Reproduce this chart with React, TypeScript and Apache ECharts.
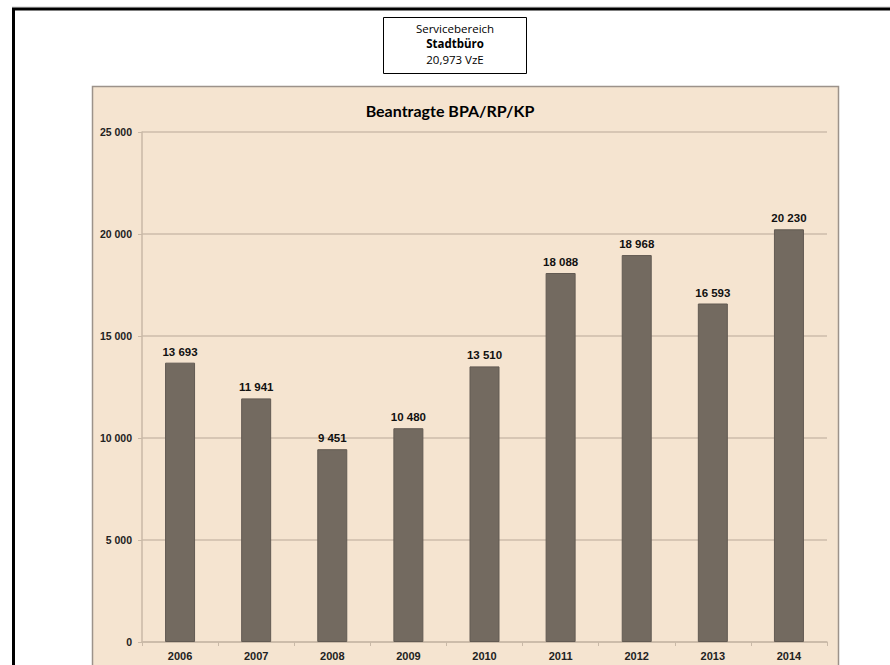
import React, { useEffect, useRef } from "react";
import * as echarts from "echarts";

const categories = ["2006", "2007", "2008", "2009", "2010", "2011", "2012", "2013", "2014"];
const values = [13693, 11941, 9451, 10480, 13510, 18088, 18968, 16593, 20230];
const headerLines = ["Servicebereich", "Stadtbüro", "20,973 VzE"];
const chartTitle = "Beantragte BPA/RP/KP";

const fmt = (v: number) => String(Math.round(v)).replace(/\B(?=(\d{3})+(?!\d))/g, " ");

export default function App() {
  const ref = useRef<HTMLDivElement>(null);
  useEffect(() => {
    if (!ref.current) return;
    const chart = echarts.init(ref.current, undefined, { renderer: "svg" });
    chart.setOption({
      animation: false,
      backgroundColor: "#ffffff",
      graphic: [
        { type: "line", shape: { x1: 12, y1: 7, x2: 890, y2: 7 }, style: { stroke: "#cfcfcf", lineWidth: 1 }, z: 0 },
        { type: "line", shape: { x1: 12, y1: 9, x2: 890, y2: 9 }, style: { stroke: "#000", lineWidth: 3 }, z: 1 },
        { type: "line", shape: { x1: 13.5, y1: 8, x2: 13.5, y2: 665 }, style: { stroke: "#000", lineWidth: 3 }, z: 1 },
        { type: "rect", shape: { x: 383.5, y: 17.5, width: 143, height: 56 }, style: { fill: "#fff", stroke: "#000", lineWidth: 1 }, z: 1 },
        { type: "text", x: 455, y: 28, style: { text: headerLines[0], font: "11.5px 'Open Sans'", fill: "#000", textAlign: "center", textVerticalAlign: "middle" }, z: 2 },
        { type: "text", x: 455, y: 43, style: { text: headerLines[1], font: "bold 11.5px 'Open Sans'", fill: "#000", textAlign: "center", textVerticalAlign: "middle" }, z: 2 },
        { type: "text", x: 455, y: 59, style: { text: headerLines[2], font: "11.5px 'Open Sans'", fill: "#000", textAlign: "center", textVerticalAlign: "middle" }, z: 2 },
        { type: "rect", shape: { x: 92.5, y: 86.5, width: 746, height: 620 }, style: { fill: "#F5E4D0", stroke: "#9c928a", lineWidth: 1.5 }, z: -10 },
        { type: "text", x: 450, y: 110, style: { text: chartTitle, font: "bold 16px Lato", fill: "#000", textAlign: "center", textVerticalAlign: "middle" }, z: 2 },
      ],
      grid: { left: 142, top: 132, width: 685, height: 510, containLabel: false },
      xAxis: {
        type: "category",
        data: categories,
        axisLine: { lineStyle: { color: "#c9b9a7", width: 1.5 } },
        axisTick: { show: true, length: 4, lineStyle: { color: "#c9b9a7" } },
        axisLabel: { color: "#222", fontWeight: "bold", fontSize: 11, fontFamily: "'Liberation Sans', Arial", margin: 8 },
      },
      yAxis: {
        type: "value",
        min: 0,
        max: 25000,
        interval: 5000,
        axisLine: { show: true, lineStyle: { color: "#c9b9a7", width: 1.5 } },
        axisTick: { show: true, length: 4, lineStyle: { color: "#c9b9a7" } },
        splitLine: { lineStyle: { color: "#cdbdab", width: 1.5 } },
        axisLabel: { color: "#222", fontWeight: "bold", fontSize: 10.5, fontFamily: "'Liberation Sans', Arial", margin: 10, formatter: (v: number) => fmt(v) },
      },
      series: [
        {
          type: "bar",
          data: values,
          barWidth: 30,
          itemStyle: { color: "#736a60", borderColor: "#625a52", borderWidth: 1 },
          label: {
            show: true,
            position: "top",
            distance: 5,
            color: "#111",
            fontWeight: "bold",
            fontSize: 11.5,
            fontFamily: "'Liberation Sans', Arial",
            formatter: (p: any) => fmt(p.value),
          },
        },
      ],
    });
    return () => chart.dispose();
  }, []);
  return <div ref={ref} style={{ position: "absolute", left: 0, top: 0, width: 890, height: 665 }} />;
}
